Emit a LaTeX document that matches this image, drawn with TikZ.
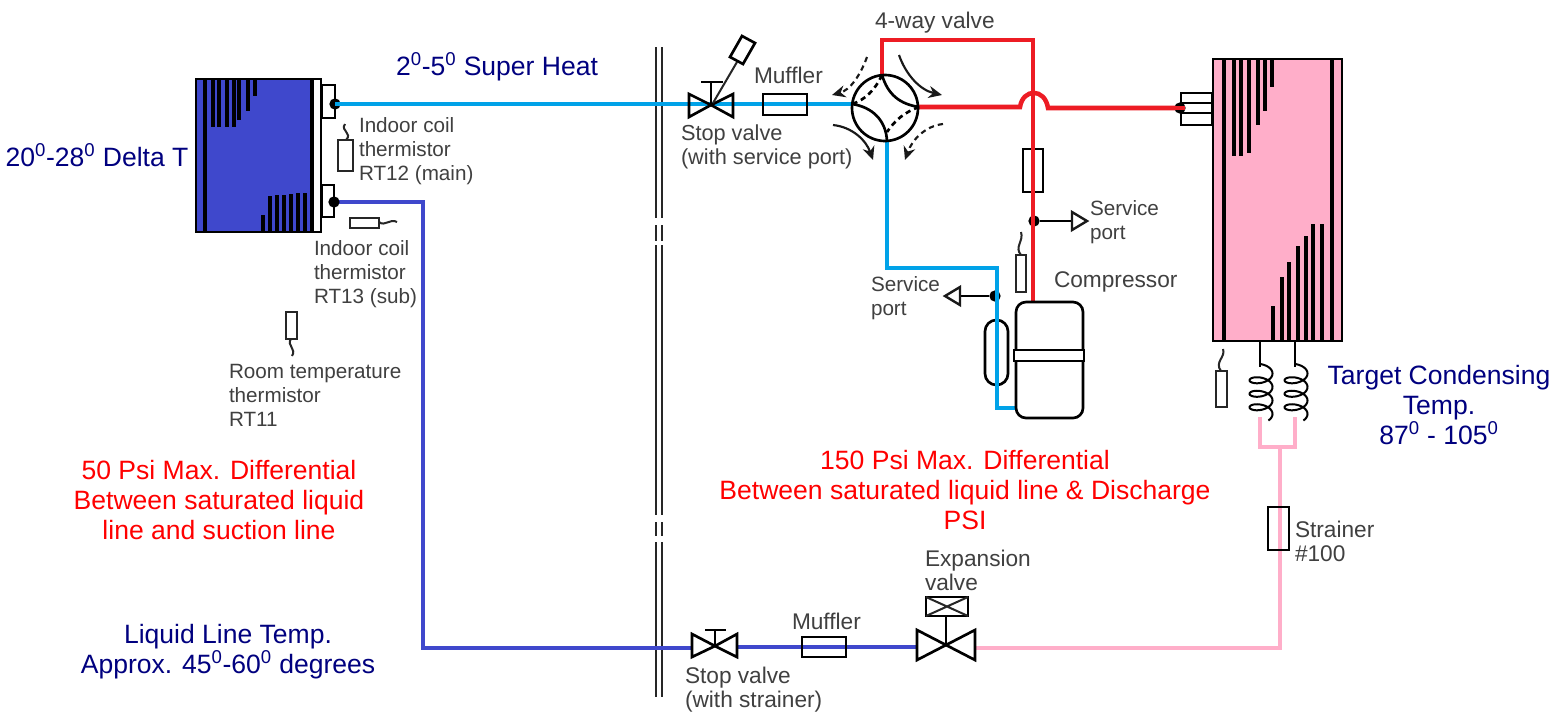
\documentclass[tikz,border=0pt]{standalone}
\usepackage{fontspec}
\setmainfont{Liberation Sans}
\usetikzlibrary{arrows.meta,calc}
\definecolor{cblue}{HTML}{3F48CC}
\definecolor{clight}{HTML}{00A2E8}
\definecolor{cred}{HTML}{ED1C24}
\definecolor{cpink}{HTML}{FFAEC9}
\definecolor{cnavy}{HTML}{00007F}
\definecolor{cgray}{HTML}{404040}
\newcommand{\dg}{\textsuperscript{0}}
\tikzset{
  pipe/.style={line width=3.4pt,line join=miter},
  outl/.style={draw=black,line width=2pt},
  thin outl/.style={draw=black!85,line width=1.5pt},
  fin/.style={draw=black,line width=2.5pt},
  finthick/.style={draw=black,line width=3.7pt},
  wall/.style={draw=black!85,line width=1.5pt},
  lab/.style={inner sep=0pt,outer sep=0pt,anchor=west,align=left,text=cgray,font=\fontsize{15.5}{18}\selectfont},
  labb/.style={lab,font=\fontsize{17}{18}\selectfont},
  bigb/.style={inner sep=0pt,outer sep=0pt,align=center,text=cnavy,font=\fontsize{19.9}{22.5}\selectfont},
  bigr/.style={inner sep=0pt,outer sep=0pt,align=center,text=red,font=\fontsize{19.9}{22.5}\selectfont},
  dot/.style={circle,fill=black,inner sep=0pt,minimum size=8.5pt},
  flow/.style={-{Stealth[length=10pt,width=9pt]},line width=1.6pt,draw=black!90},
  flowd/.style={flow,dash pattern=on 4pt off 3pt},
  open tip/.style={draw=black!90,line width=1.8pt,fill=white},
}
\begin{document}
\begin{tikzpicture}[x=0.75pt,y=-0.75pt]
\useasboundingbox (0,0) rectangle (1567,719);
\fill[white] (0,0) rectangle (1567,719);

% ---- named junctions
\coordinate (sucA) at (335,104);
\coordinate (sucB) at (852,104);
\coordinate (liqA) at (334,202);
\coordinate (liqB) at (423,202);
\coordinate (liqC) at (423,648);
\coordinate (liqD) at (692,648);
\coordinate (liqE) at (737,647);
\coordinate (liqF) at (918,647);
\coordinate (pkA) at (975,648);
\coordinate (pkB) at (1280,648);
\coordinate (pkC) at (1280,447);
\coordinate (pkL) at (1260,447);
\coordinate (pkR) at (1295,447);
\coordinate (pkLt) at (1260,417);
\coordinate (pkRt) at (1295,417);
\coordinate (vT) at (882,75);
\coordinate (vR) at (919,107);
\coordinate (vB) at (887,141);
\coordinate (vL) at (852,104);
\coordinate (c) at (885,108);
\coordinate (rA) at (882,40);
\coordinate (rB) at (1033,40);
\coordinate (rC) at (1033,302);
\coordinate (hA) at (1020,107);
\coordinate (hB) at (1048,108);
\coordinate (rD) at (1183,108);
\coordinate (bA) at (887,268);
\coordinate (bB) at (997,268);
\coordinate (bC) at (997,408);
\coordinate (bD) at (1017,408);

% ---- wall
\foreach \x in {656,662}{
  \draw[wall] (\x,47) -- (\x,218);
  \draw[wall] (\x,225) -- (\x,241);
  \draw[wall] (\x,245) -- (\x,515);
  \draw[wall] (\x,522) -- (\x,536);
  \draw[wall] (\x,542) -- (\x,697);
}

% ---- indoor coil
\draw[outl,fill=white] (322,85) rectangle (335,118);
\draw[outl,fill=white] (322,185) rectangle (334,217);
\draw[outl,fill=cblue] (196,79) rectangle (321,232);
\fill[white] (313,80) rectangle (320,231);
\draw[draw=black,line width=3pt] (205,79) -- (205,232);
\draw[draw=black,line width=3pt] (312,79) -- (312,232);
\foreach \x/\y in {213/127,219/127,227/127,234/127,239/120,248/111,255/96}
  \draw[fin] (\x,79) -- (\x,\y);
\foreach \x/\y in {263/215,270/196,277/195,284/195,291/194,298/193,305/193}
  \draw[fin] (\x,232) -- (\x,\y);

% ---- condenser
\draw[outl,fill=white] (1181,93) rectangle (1212,125);
\draw[outl] (1181,103) -- (1212,103) (1181,113) -- (1212,113);
\draw[outl,fill=cpink] (1213,59) rectangle (1342,341);
\draw[finthick] (1224,59) -- (1224,341);
\draw[finthick] (1332,59) -- (1332,341);
\foreach \x/\y in {1234/156,1241/156,1249/153,1258/125,1265/111,1272/87}
  \draw[finthick] (\x,59) -- (\x,\y);
\foreach \x/\y in {1273/306,1282/277,1289/262,1298/246,1306/236,1313/224,1322/224}
  \draw[finthick] (\x,341) -- (\x,\y);

% ---- coils
\foreach \cx/\lx in {1261/1260,1296/1295}{
  \draw[outl] (\lx,341) -- (\lx,366) -- (\cx,366);
  \draw[thin outl,draw=black] plot[domain=-90:1130,samples=200,smooth] ({\cx+11.5*cos(\x)},{373.5+\x*13.5/360+6*sin(\x)});
}

% ---- pipes
\draw[pipe,clight] (sucA) -- (sucB);
\draw[pipe,cblue] (liqA) -- (liqB) -- (liqC) -- (liqD);
\draw[pipe,cblue] (liqE) -- (liqF);
\draw[pipe,cpink] (pkA) -- (pkB) -- (pkC);
\draw[pipe,cpink,line width=2.8pt] (pkLt) -- (pkL) -- (pkR) -- (pkRt);

% ---- mufflers, filters
\draw[outl] (763,94) rectangle (807,115);
\draw[outl] (802,637) rectangle (846,657);
\draw[outl] (1268,507) rectangle (1289,550);
\draw[outl] (1023,149) rectangle (1043,192);

% ---- upper stop valve
\draw[outl,line join=miter] (711,105) -- (689,94) -- (689,117) -- cycle;
\draw[outl,line join=miter] (711,105) -- (733,94) -- (733,117) -- cycle;
\draw[outl] (711,105) -- (711,82) (701,82) -- (723,82);
\draw[thin outl] (713,103) -- (737,62);
\draw[outl,fill=white] (742,36) -- (755,43) -- (743,64) -- (730,57) -- cycle;

% ---- lower stop valve
\draw[outl,line join=miter] (715,646) -- (692,634) -- (692,657) -- cycle;
\draw[outl,line join=miter] (715,646) -- (737,634) -- (737,657) -- cycle;
\draw[outl] (715,646) -- (715,630) (705,630) -- (726,630);

% ---- expansion valve
\draw[outl,line join=miter] (946,645) -- (917,630) -- (917,660) -- cycle;
\draw[outl,line join=miter] (946,645) -- (975,630) -- (975,660) -- cycle;
\draw[outl] (946,645) -- (946,616);
\draw[outl] (926,597) rectangle (968,616);
\draw[thin outl] (926,597) -- (968,616) (926,616) -- (968,597);

% ---- 4-way valve
\draw[pipe,cred] (vT) -- (rA) -- (rB) -- (rC);
\draw[pipe,cred] (vR) -- (hA) .. controls (1023,88) and (1045,88) .. (hB) -- (rD);
\draw[pipe,clight] (vB) -- (bA) -- (bB) -- (bC) -- (bD);
\draw[outl] (c) circle[radius=33];
\draw[outl] (vT) .. controls (888,95) and (900,104) .. (vR);
\draw[outl] (vL) .. controls (872,107) and (886,120) .. (vB);
\draw[outl,dash pattern=on 4pt off 3pt] (vT) .. controls (875,90) and (865,100) .. (vL);
\draw[outl,dash pattern=on 4pt off 3pt] (vR) .. controls (905,112) and (895,120) .. (887,132);
\draw[flow] (899,55) .. controls (906,75) and (920,90) .. (942,95);
\draw[flow] (833,125) .. controls (852,127) and (866,140) .. (873,160);
\draw[flowd] (867,57) .. controls (860,76) and (850,90) .. (832,95);
\draw[flowd] (943,124) .. controls (925,126) and (912,140) .. (905,160);

% ---- compressor
\draw[outl,rounded corners=8.5pt] (985,320) rectangle (1008,385);
\draw[pipe,clight] (bB) -- (bC);
\draw[outl,rounded corners=7.5pt] (1016,302) rectangle (1083,418);
\draw[outl,fill=white] (1014,350) rectangle (1084,361);

% ---- service ports
\node[dot] (spR) at (1034,221) {};
\draw[outl] (spR) -- (1072,221);
\draw[open tip,line join=miter] (1072,212) -- (1087,221) -- (1072,230) -- cycle;
\draw[pipe,cred] (1033,210) -- (1033,232);
\node[dot] (spL) at (995,296) {};
\draw[outl] (spL) -- (960,296);
\draw[open tip,line join=miter] (960,287) -- (945,296) -- (960,305) -- cycle;
\draw[pipe,clight] (997,286) -- (997,306);

% ---- coil connection dots
\node[dot] (dotA) at (sucA) {};
\draw[pipe,clight] (335,104) -- (345,104);
\node[dot] (dotB) at (liqA) {};
\node[dot] (dotC) at (1180,108) {};
\draw[pipe,cred] (1170,108) -- (1185,108);

% ---- thermistors
\draw[thin outl] (338,140) rectangle (353,171);
\draw[thin outl] (346,140) .. controls (353,133) and (340,131) .. (345,124);
\draw[thin outl] (350,218) rectangle (379,228);
\draw[thin outl] (379,222) .. controls (385,227) and (390,218) .. (397,222);
\draw[thin outl] (286,312) rectangle (297,339);
\draw[thin outl] (291,339) .. controls (286,345) and (297,349) .. (292,356);
\draw[thin outl] (1016,255) rectangle (1026,292);
\draw[thin outl] (1021,255) .. controls (1014,247) and (1024,241) .. (1021,232);
\draw[thin outl] (1216,371) rectangle (1227,407);
\draw[thin outl] (1221,371) .. controls (1214,362) and (1226,357) .. (1223,349);

% ---- texts
\node[bigb] (tSH) at (497,67) {2\dg-5\dg\ Super Heat};
\node[bigb] (tDT) at (97,155) {20\dg-28\dg\ Delta T};
\node[bigb] (tLL) at (228,652) {Liquid Line Temp.\\Approx. 45\dg-60\dg\ degrees};
\node[bigb] (tTC) at (1439,405) {Target Condensing\\Temp.\\87\dg\ - 105\dg};
\node[bigr] (t50) at (219,500) {50 Psi Max. Differential\\Between saturated liquid\\line and suction line};
\node[bigr] (t150) at (965,490) {150 Psi Max. Differential\\Between saturated liquid line \& Discharge\\PSI};
\node[labb] (l4w) at (875,23) {4-way valve};
\node[labb] (lM1) at (754,75) {Muffler};
\node[labb,font=\fontsize{16.3}{18}\selectfont] (lSV1) at (681,147) {Stop valve\\(with service port)};
\node[lab] (lRT12) at (359,151) {Indoor coil\\thermistor\\RT12 (main)};
\node[lab] (lRT13) at (314,274) {Indoor coil\\thermistor\\RT13 (sub)};
\node[lab] (lRT11) at (229,395) {Room temperature\\thermistor\\RT11};
\node[lab] (lSPR) at (1090,222) {Service\\port};
\node[lab] (lSPL) at (871,298) {Service\\port};
\node[labb] (lCP) at (1054,282) {Compressor};
\node[labb] (lST) at (1295,541) {Strainer\\\#100};
\node[labb] (lEV) at (925,570) {Expansion\\valve};
\node[labb] (lM2) at (792,621) {Muffler};
\node[labb] (lSV2) at (685,690) {Stop valve\\(with strainer)};
\end{tikzpicture}
\end{document}
